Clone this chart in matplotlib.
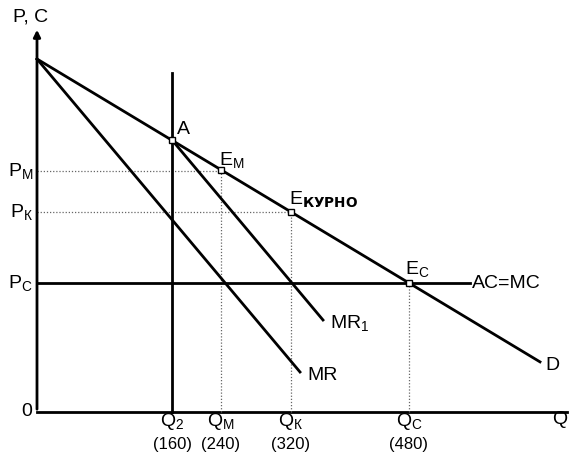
import matplotlib
matplotlib.use("Agg")
import matplotlib.pyplot as plt

plt.rcParams['font.family'] = ['Liberation Sans', 'DejaVu Sans']
plt.rcParams['mathtext.fontset'] = 'custom'
plt.rcParams['mathtext.rm'] = 'Liberation Sans'

# positions (arbitrary units from the origin)
q_pos = [135, 184, 254, 372]          # Q2, QM, QK, QC
q_names = ["2", "М", "К", "С"]
q_vals = ["(160)", "(240)", "(320)", "(480)"]
p_names = ["М", "К", "С"]
p_levels = [241, 200, 129]            # PM, PK, PC

d_top = 353                           # intercept of D, MR, MR1
d_end_x = 503
mr_end = (263, 40)
a_point = (135, 272)
mr1_end = (286, 92)
q2_top = 339
ac_end_x = 433

fig = plt.figure(figsize=(5.72, 4.57), dpi=100)
ax = fig.add_axes([0, 0, 1, 1])
ax.set_xlim(-37, 535)
ax.set_ylim(-45, 412)
ax.axis('off')

lw = 2.0
d_slope = (p_levels[2] - d_top) / q_pos[3]

def d_price(q):
    return d_top + d_slope * q

# axes
ax.annotate("", xy=(0, 385), xytext=(0, 0),
            arrowprops=dict(arrowstyle="-|>", lw=lw, color="black", mutation_scale=10))
ax.plot([0, 530], [0, 0], color="black", lw=lw)

# dotted guides
for q, p in zip(q_pos[1:], p_levels):
    ax.plot([q, q], [0, p], color="#666666", lw=0.9, ls=(0, (1, 1.5)))
for q, p in zip(q_pos[1:3], p_levels[:2]):
    ax.plot([0, q], [p, p], color="#666666", lw=0.9, ls=(0, (1, 1.5)))

# curves
ax.plot([0, d_end_x], [d_top, d_price(d_end_x)], color="black", lw=lw)
ax.plot([0, mr_end[0]], [d_top, mr_end[1]], color="black", lw=lw)
ax.plot([a_point[0], mr1_end[0]], [a_point[1], mr1_end[1]], color="black", lw=lw)
ax.plot([q_pos[0], q_pos[0]], [0, q2_top], color="black", lw=lw)
ax.plot([0, ac_end_x], [p_levels[2], p_levels[2]], color="black", lw=lw)

# equilibrium points
pts_x = [a_point[0]] + q_pos[1:]
pts_y = [d_price(x) for x in pts_x]
ax.plot(pts_x, pts_y, ls="none", marker="s", ms=4, mfc="white", mec="black", mew=1)

fs = 14
# axis labels
ax.text(-6, 395, "P, C", fontsize=fs, ha="center", va="center")
ax.text(-10, 0, "0", fontsize=fs, ha="center", va="center")
ax.text(523, -7, "Q", fontsize=fs, ha="center", va="center")
for name, p in zip(p_names, p_levels):
    ax.text(-4, p, r"$\mathregular{P_{%s}}$" % name, fontsize=fs, ha="right", va="center")
for q, name, val in zip(q_pos, q_names, q_vals):
    ax.text(q, -9, r"$\mathregular{Q_{%s}}$" % name, fontsize=fs, ha="center", va="center")
    ax.text(q, -33, val, fontsize=12, ha="center", va="center")

# curve and point labels
ax.text(140, 282, "A", fontsize=fs, ha="left", va="center")
ax.text(182, 252, r"$\mathregular{E_{М}}$", fontsize=fs, ha="left", va="center")
ax.text(252, 213, r"$\mathregular{E_{\mathbf{КУРНО}}}$", fontsize=fs, ha="left", va="center")
ax.text(368, 143, r"$\mathregular{E_{С}}$", fontsize=fs, ha="left", va="center")
ax.text(435, 129, "AC=MC", fontsize=fs, ha="left", va="center")
ax.text(293, 89, r"$\mathregular{MR_{1}}$", fontsize=fs, ha="left", va="center")
ax.text(270, 37, "MR", fontsize=fs, ha="left", va="center")
ax.text(508, 46, "D", fontsize=fs, ha="left", va="center")

fig.savefig("out.png", dpi=100)
